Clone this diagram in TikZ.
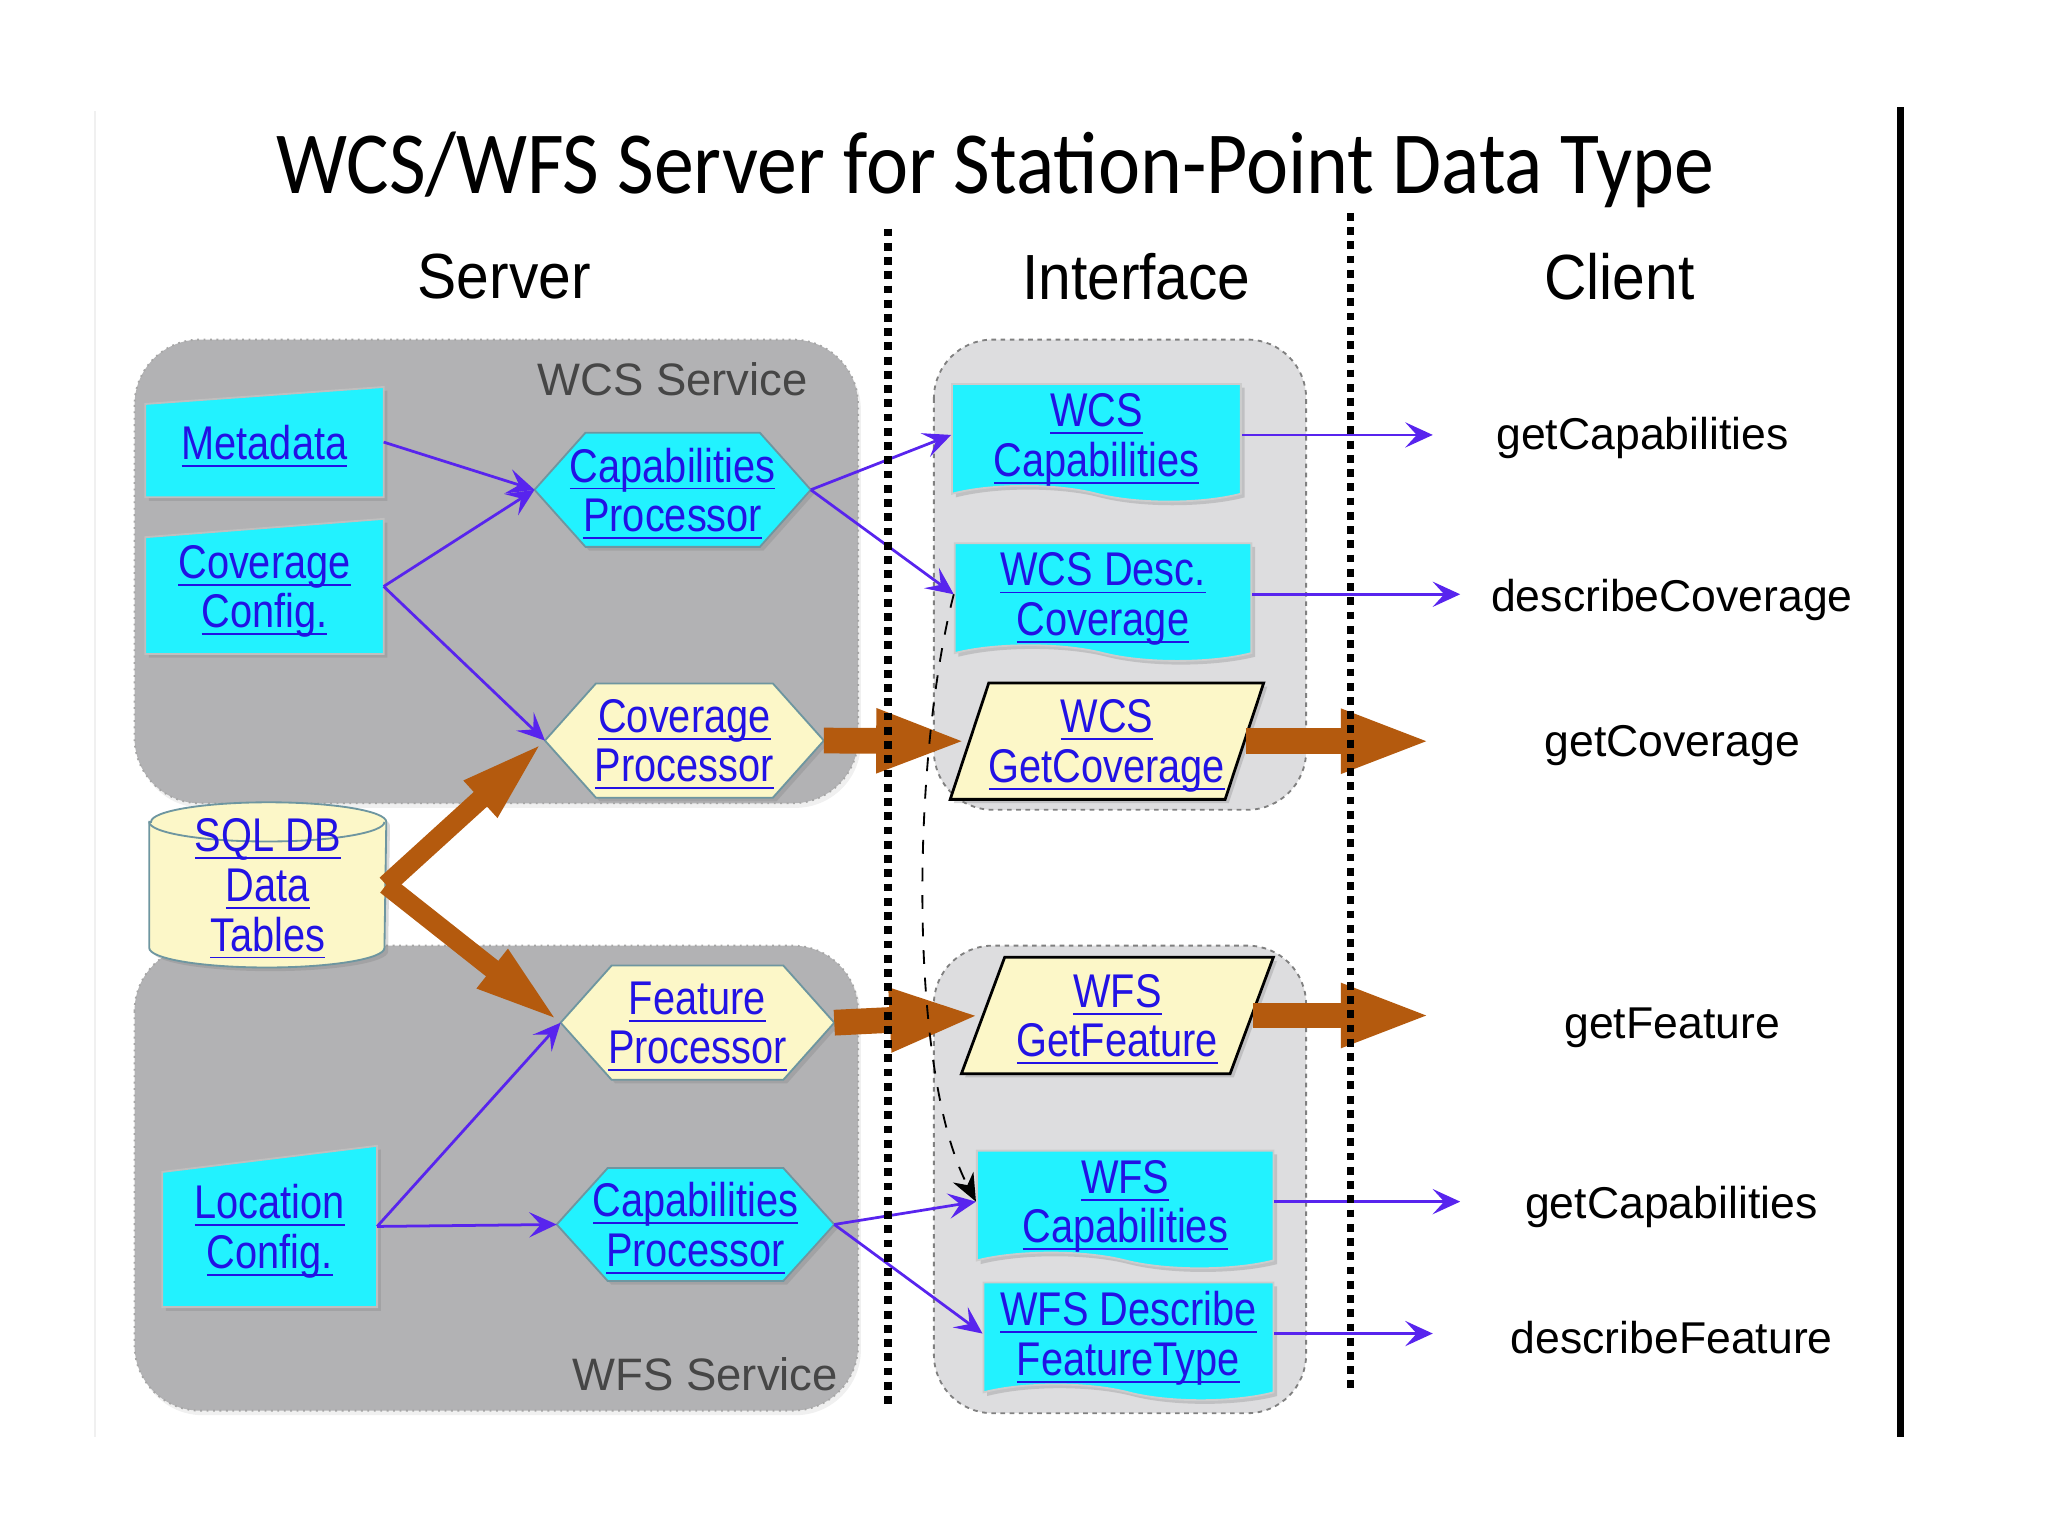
\documentclass[tikz,border=0pt]{standalone}
\usepackage{fontspec}
\setmainfont{Liberation Sans}
\newfontfamily\titlefont{Carlito}[FakeStretch=0.9]
\newfontfamily\nodefont{Liberation Sans}[FakeStretch=0.84]
\newfontfamily\headfont{Liberation Sans}[FakeStretch=0.92]
\usetikzlibrary{shapes.geometric,shapes.symbols,arrows.meta,shadows}
\pgfdeclarelayer{back}
\pgfdeclarelayer{mid}
\pgfsetlayers{back,mid,main}
\definecolor{cyanfill}{RGB}{34,242,255}
\definecolor{yellowfill}{RGB}{252,247,200}
\definecolor{servicegray}{RGB}{178,178,180}
\definecolor{ifacegray}{RGB}{221,221,223}
\definecolor{linkblue}{RGB}{34,18,228}
\definecolor{arrowblue}{RGB}{88,36,238}
\definecolor{floworange}{RGB}{180,90,14}
\definecolor{servicetext}{RGB}{70,70,70}
\definecolor{edgegray}{RGB}{110,150,160}
\newcommand\lnk[1]{\raisebox{0pt}[\height][0pt]{\underline{\raisebox{0pt}[\height][0pt]{#1}}}}
\tikzset{
  linktext/.style={font=\nodefont\fontsize{10.3}{10.8}\selectfont, text=linkblue, align=center, inner sep=0pt},
  softshadow/.style={drop shadow={opacity=0.3, shadow xshift=0.8pt, shadow yshift=-0.8pt}},
  inbox/.style={linktext, rectangle},
  docbox/.style={linktext, tape, tape bend top=none, tape bend bottom=out and in,
    tape bend height=0.12cm, minimum height=0.9cm, fill=cyanfill, draw=gray!40, softshadow},
  getbox/.style={linktext, trapezium, trapezium left angle=65, trapezium right angle=115,
    trapezium stretches=true, minimum width=2.39cm, minimum height=0.89cm,
    fill=yellowfill, draw=black, line width=0.6pt, softshadow},
  headlabel/.style={font=\headfont\fontsize{13.9}{16}\selectfont},
  servlabel/.style={font=\fontsize{9.9}{12}\selectfont, text=servicetext},
  clientlabel/.style={font=\fontsize{9.7}{12}\selectfont, anchor=west, inner sep=0pt},
  servicebox/.style={fill=servicegray, draw=gray!70, densely dotted, rounded corners=0.5cm,
    drop shadow={opacity=0.12, shadow xshift=0.6pt, shadow yshift=-1pt}},
  ifacebox/.style={fill=ifacegray, draw=gray, dash pattern=on 1pt off 1pt, rounded corners=0.45cm},
  bluearrow/.style={->, draw=arrowblue, line width=0.6pt},
  flowbig/.style={draw=floworange, line width=5.6pt, -{Triangle[length=20pt,width=12.5pt]}},
  flowsmall/.style={draw=floworange, line width=4.3pt, -{Triangle[length=19pt,width=9.5pt]}},
  sepline/.style={line width=1.7pt, dash pattern=on 1.7pt off 1.4pt}
}
\begin{document}
\begin{tikzpicture}[x=0.01cm, y=-0.01cm, >={Stealth[length=6pt,width=5.5pt,inset=2.5pt]}]
\useasboundingbox (0,0) rectangle (1568,1176);
\draw[gray!12, line width=0.5pt] (73,85) -- (73,1100);
\draw[line width=1.4pt] (1455,82) -- (1455,1100);

\node (title) at (762,130) {\titlefont\fontsize{19.3}{22}\selectfont WCS/WFS Server for Station-Point Data Type};
\node[headlabel] (srv) at (386,212) {Server};
\node[headlabel] (ifc) at (870,212) {Interface};
\node[headlabel] (cli) at (1240,212) {Client};

% service areas
\begin{pgfonlayer}{back}
\draw[servicebox] (103,260) rectangle (657,615);
\draw[servicebox] (103,724) rectangle (657,1080);
\draw[ifacebox] (715,260) rectangle (1000,620);
\draw[ifacebox] (715,724) rectangle (1000,1082);
\end{pgfonlayer}
\node[servlabel] (wcslbl) at (515,290) {WCS Service};
\node[servlabel] (wfslbl) at (540,1052) {WFS Service};

% server side
\node[inbox, minimum width=1.81cm, minimum height=0.83cm] (meta) at (202.5,338.5) {\lnk{Metadata}};
\node[inbox, minimum width=1.81cm, minimum height=1.02cm] (covcfg) at (202.5,449) {\lnk{Coverage}\\\lnk{Config.}};
\node[inbox, minimum width=1.63cm, minimum height=1.22cm] (loccfg) at (206.5,939) {\lnk{Location}\\\lnk{Config.}};
\node[inbox, minimum width=2.1cm, minimum height=0.86cm] (wcsproc) at (515,375) {\lnk{Capabilities}\\\lnk{Processor}};
\node[inbox, minimum width=2.12cm, minimum height=0.86cm] (covproc) at (524,567) {\lnk{Coverage}\\\lnk{Processor}};
\node[inbox, minimum width=1.8cm, minimum height=1.25cm] (db) at (205,677.5) {\lnk{SQL DB}\\\lnk{Data}\\\lnk{Tables}};
\node[inbox, minimum width=2.08cm, minimum height=0.86cm] (featproc) at (534,783) {\lnk{Feature}\\\lnk{Processor}};
\node[inbox, minimum width=2.11cm, minimum height=0.85cm] (wfsproc) at (532.5,937.5) {\lnk{Capabilities}\\\lnk{Processor}};
\begin{pgfonlayer}{mid}
\foreach \n/\s in {meta/0.13, covcfg/0.14, loccfg/0.2}
  \filldraw[fill=cyanfill, draw=gray!50, softshadow] (\n.south west) -- ([yshift=-\s cm]\n.north west) -- (\n.north east) -- (\n.south east) -- cycle;
\foreach \n/\c in {wcsproc/cyanfill, covproc/yellowfill, featproc/yellowfill, wfsproc/cyanfill}
  \filldraw[fill=\c, draw=edgegray, softshadow] (\n.west) -- ([xshift=0.39cm]\n.north west) -- ([xshift=-0.39cm]\n.north east)
    -- (\n.east) -- ([xshift=-0.39cm]\n.south east) -- ([xshift=0.39cm]\n.south west) -- cycle;
\filldraw[fill=yellowfill, draw=edgegray, softshadow] ([yshift=-0.15cm]db.north west) -- ([yshift=0.15cm]db.south west)
  arc[start angle=180, end angle=360, x radius=0.9cm, y radius=0.15cm] -- ([yshift=-0.15cm]db.north east)
  arc[start angle=0, end angle=180, x radius=0.9cm, y radius=0.15cm] -- cycle;
\draw[edgegray] ([yshift=-0.15cm]db.north west) arc[start angle=180, end angle=360, x radius=0.9cm, y radius=0.15cm];
\end{pgfonlayer}

% interface
\node[docbox, minimum width=2.21cm] (wcscap) at (839.5,333) {\lnk{WCS}\\\lnk{Capabilities}};
\node[docbox, minimum width=2.27cm] (wcsdesc) at (844.5,455) {\lnk{WCS Desc.}\\\lnk{Coverage}};
\node[getbox] (getcov) at (847.5,567.5) {\lnk{WCS}\\\lnk{GetCoverage}};
\node[getbox] (getfeat) at (855.5,777.5) {\lnk{WFS}\\\lnk{GetFeature}};
\node[docbox, minimum width=2.27cm] (wfscap) at (861.5,920) {\lnk{WFS}\\\lnk{Capabilities}};
\node[docbox, minimum width=2.22cm] (wfsdesc) at (864,1021) {\lnk{WFS Describe}\\\lnk{FeatureType}};

% client
\node[clientlabel] (c1) at (1145,335) {getCapabilities};
\node[clientlabel] (c2) at (1141,459) {describeCoverage};
\node[clientlabel] (c3) at (1182,571) {getCoverage};
\node[clientlabel] (c4) at (1197,787) {getFeature};
\node[clientlabel] (c5) at (1167,924) {getCapabilities};
\node[clientlabel] (c6) at (1156,1024) {describeFeature};

% connectors
\foreach \a/\b in {meta/wcsproc, covcfg/wcsproc, covcfg/covproc, wcsproc/wcscap, wcsproc/wcsdesc,
  loccfg/featproc, loccfg/wfsproc, wfsproc/wfscap, wfsproc/wfsdesc}
  \draw[bluearrow] (\a.east) -- (\b.west);
\foreach \a/\b/\s in {wcscap/c1/0.48, wcsdesc/c2/0.23, wfscap/c5/0.49, wfsdesc/c6/0.59}
  \draw[bluearrow, shorten >=\s cm] (\a.east) -- (\a.east -| \b.west);
\draw[flowsmall] (db.east) -- (covproc.west);
\draw[flowsmall] (db.east) -- (featproc.west);
\draw[flowbig] (covproc.east) -- (getcov.west);
\draw[flowbig, shorten >=0.85cm] (getcov.east) -- (getcov.east -| c3.west);
\draw[flowbig] (featproc.east) -- (getfeat.west);
\draw[flowbig, shorten >=1cm] (getfeat.east) -- (getfeat.east -| c4.west);

\draw[sepline] (680,175) -- (680,1078);
\draw[sepline] (1034,163) -- (1034,1065);
\draw[dashed, -{Stealth[length=6pt,width=5pt]}] (wcsdesc.west) .. controls (698,580) and (695,820) .. (wfscap.west);
\end{tikzpicture}
\end{document}
